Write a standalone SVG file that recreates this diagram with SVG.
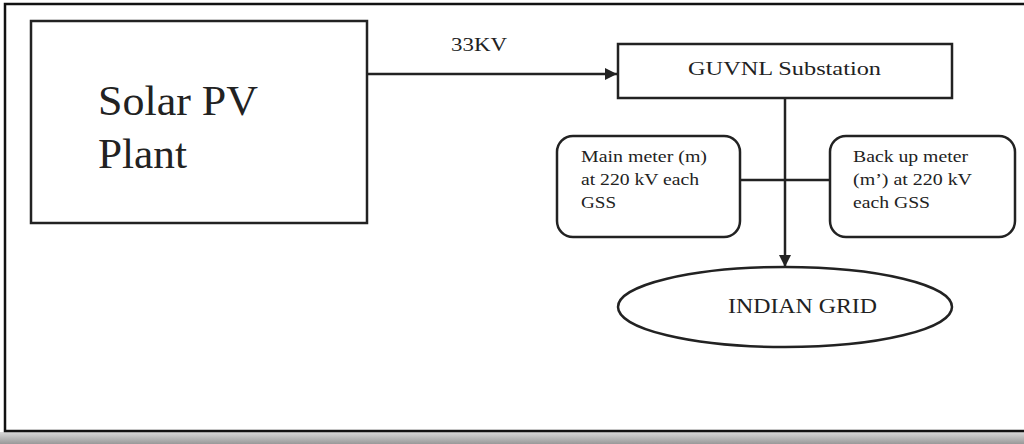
<svg xmlns="http://www.w3.org/2000/svg" width="1024" height="444" viewBox="0 0 1024 444">
<style>
.box{fill:#fff;stroke:#222;stroke-width:2.5}
.ln{fill:none;stroke:#222;stroke-width:2.5}
text{font-family:'Liberation Serif','DejaVu Serif',serif;fill:#222}
</style>
<defs>
<marker id="ah" viewBox="0 0 10 10" refX="10" refY="5" markerWidth="5" markerHeight="5" orient="auto" markerUnits="strokeWidth">
<path d="M0,0 L10,5 L0,10 z" fill="#222"/>
</marker>
<linearGradient id="g" x1="0" y1="0" x2="0" y2="1">
<stop offset="0" stop-color="#d8d8d8"/>
<stop offset="1" stop-color="#999"/>
</linearGradient>
</defs>
<rect x="0" y="0" width="1024" height="444" fill="#fff"/>
<rect x="0" y="432" width="1024" height="12" fill="url(#g)"/>
<rect id="frame" x="5" y="4" width="1025" height="427" fill="none" stroke="#111" stroke-width="2.5"/>
<g id="connectors">
<line class="ln" x1="367" y1="74" x2="617" y2="74" marker-end="url(#ah)"/>
<line class="ln" x1="785" y1="98" x2="785" y2="267" marker-end="url(#ah)"/>
<line class="ln" x1="740" y1="180" x2="830" y2="180"/>
</g>
<g id="solar">
<rect class="box" x="31" y="21" width="336" height="202"/>
<text x="98" y="115" font-size="43" textLength="160" lengthAdjust="spacingAndGlyphs">Solar PV</text>
<text x="98" y="168" font-size="43" textLength="89" lengthAdjust="spacingAndGlyphs">Plant</text>
</g>
<text id="lbl33" x="451" y="51" font-size="19" textLength="56" lengthAdjust="spacingAndGlyphs">33KV</text>
<g id="guvnl">
<rect class="box" x="618" y="44" width="334" height="54"/>
<text x="688" y="75" font-size="18" textLength="193" lengthAdjust="spacingAndGlyphs">GUVNL Substation</text>
</g>
<g id="mainmeter">
<rect class="box" x="557" y="136" width="183" height="101" rx="16"/>
<text x="581" y="162" font-size="16" textLength="126" lengthAdjust="spacingAndGlyphs">Main meter (m)</text>
<text x="581" y="185" font-size="16" textLength="118" lengthAdjust="spacingAndGlyphs">at 220 kV each</text>
<text x="581" y="208" font-size="16" textLength="35" lengthAdjust="spacingAndGlyphs">GSS</text>
</g>
<g id="backupmeter">
<rect class="box" x="830" y="136" width="185" height="101" rx="16"/>
<text x="853" y="162" font-size="16" textLength="115" lengthAdjust="spacingAndGlyphs">Back up meter</text>
<text x="853" y="185" font-size="16" textLength="119" lengthAdjust="spacingAndGlyphs">(m’) at 220 kV</text>
<text x="853" y="208" font-size="16" textLength="77" lengthAdjust="spacingAndGlyphs">each GSS</text>
</g>
<g id="grid">
<ellipse class="box" cx="785" cy="307" rx="167" ry="40"/>
<text x="728" y="313" font-size="21" textLength="149" lengthAdjust="spacingAndGlyphs">INDIAN GRID</text>
</g>
</svg>
